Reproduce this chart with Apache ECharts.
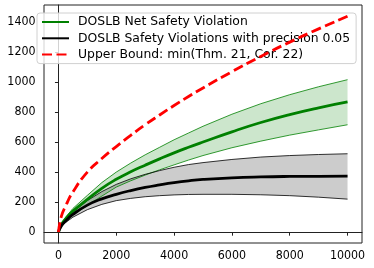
<!DOCTYPE html>
<html><head><meta charset="utf-8">
<script src="https://cdn.jsdelivr.net/npm/echarts@6/dist/echarts.min.js"></script>
<style>html,body{margin:0;padding:0;background:#fff}#c{width:374px;height:268px}</style>
</head><body><div id="c"></div>
<script>
const xs = [0,100,250,500,1000,1500,2000,2500,3000,3500,4000,4500,5000,6000,7000,8000,9000,10000];
const redBound = [0,105,175,268,400,490,570,645,715,780,843,903,960,1068,1170,1265,1353,1437];
const greenMean = [0,50,88,140,218,292,352,402,446,488,528,565,600,668,730,783,828,867];
const greenUpper = [0,60,100,158,245,330,400,460,515,565,615,660,705,785,855,915,968,1015];
const greenLower = [0,42,72,115,178,240,300,342,380,415,448,480,510,562,606,646,681,715];
const blackMean = [0,42,75,118,180,222,252,277,298,315,330,342,351,362,368,371,372,373];
const blackUpper = [0,48,85,135,210,270,318,355,385,410,432,450,463,484,500,510,517,522];
const blackLower = [0,36,65,100,150,185,210,225,236,243,248,251,252,252,249,243,233,220];
const xTicks = [0,2000,4000,6000,8000,10000];
const yTicks = [0,200,400,600,800,1000,1200,1400];
const names = ['DOSLB Net Safety Violation','DOSLB Safety Violations with precision 0.05','Upper Bound: min(Thm. 21, Cor. 22)'];

const pairs = (ys) => xs.map((x,i)=>[x, ys[i]]);
function band(up, lo, fill){
  return {
    type:'custom', silent:true, z:1, data:[[0,0]],
    renderItem:(params, api)=>{
      const pts=[];
      for(let i=0;i<xs.length;i++) pts.push(api.coord([xs[i], up[i]]));
      for(let i=xs.length-1;i>=0;i--) pts.push(api.coord([xs[i], lo[i]]));
      return {type:'polygon', shape:{points:pts}, style:{fill:fill, stroke:null}};
    }
  };
}
function edge(ys, color){
  return {type:'line', data:pairs(ys), symbol:'none', smooth:false, silent:true, z:2,
    lineStyle:{color:color, width:0.8}};
}
const font = 'DejaVu Sans';
const tickFont = "'DejaVu Sans Condensed', 'DejaVu Sans'";
const chart = echarts.init(document.getElementById('c'), null, {renderer:'canvas'});
chart.setOption({
  animation:false,
  backgroundColor:'#fff',
  grid:{left:44, right:12, top:5, bottom:25, show:true, borderColor:'#222', borderWidth:1, backgroundColor:'transparent'},
  xAxis:{type:'value', min:-500, max:10500,
    axisLine:{show:true, lineStyle:{color:'#222', width:1}},
    splitLine:{show:false},
    axisTick:{show:true, length:3.5, customValues:xTicks, lineStyle:{color:'#222'}},
    axisLabel:{customValues:xTicks, formatter:(v)=>String(v), color:'#000', fontFamily:tickFont, fontSize:12.3, margin:7}},
  yAxis:{type:'value', min:-72, max:1512,
    axisLine:{show:true, lineStyle:{color:'#222', width:1}},
    splitLine:{show:false},
    axisTick:{show:true, length:3.5, customValues:yTicks, lineStyle:{color:'#222'}},
    axisLabel:{customValues:yTicks, formatter:(v)=>String(v), color:'#000', fontFamily:tickFont, fontSize:12.3, margin:8.5}},
  legend:{data:names, orient:'vertical', left:37, top:13, itemWidth:27, itemHeight:14, itemGap:4.3,
    padding:[3,6,3,4], backgroundColor:'rgba(255,255,255,0.8)', borderColor:'#d0d0d0', borderWidth:1, borderRadius:3,
    itemStyle:{opacity:0},
    textStyle:{color:'#000', fontFamily:font, fontSize:12.4, padding:[0,0,0,4]}},
  series:[
    band(greenUpper, greenLower, 'rgba(0,128,0,0.2)'),
    band(blackUpper, blackLower, 'rgba(0,0,0,0.2)'),
    edge(greenUpper,'#008000'), edge(greenLower,'#008000'),
    edge(blackUpper,'#000'), edge(blackLower,'#000'),
    {name:names[0], type:'line', data:pairs(greenMean), symbol:'none', smooth:true, z:3,
      lineStyle:{color:'#008000', width:2.8}, itemStyle:{color:'#008000'}},
    {name:names[1], type:'line', data:pairs(blackMean), symbol:'none', smooth:true, z:3,
      lineStyle:{color:'#000', width:2.8}, itemStyle:{color:'#000'}},
    {name:names[2], type:'line', data:pairs(redBound), symbol:'none', smooth:true, z:4,
      lineStyle:{color:'#ff0000', width:2.8, type:[10,4.5]}, itemStyle:{color:'#ff0000'}}
  ]
});
</script></body></html>
